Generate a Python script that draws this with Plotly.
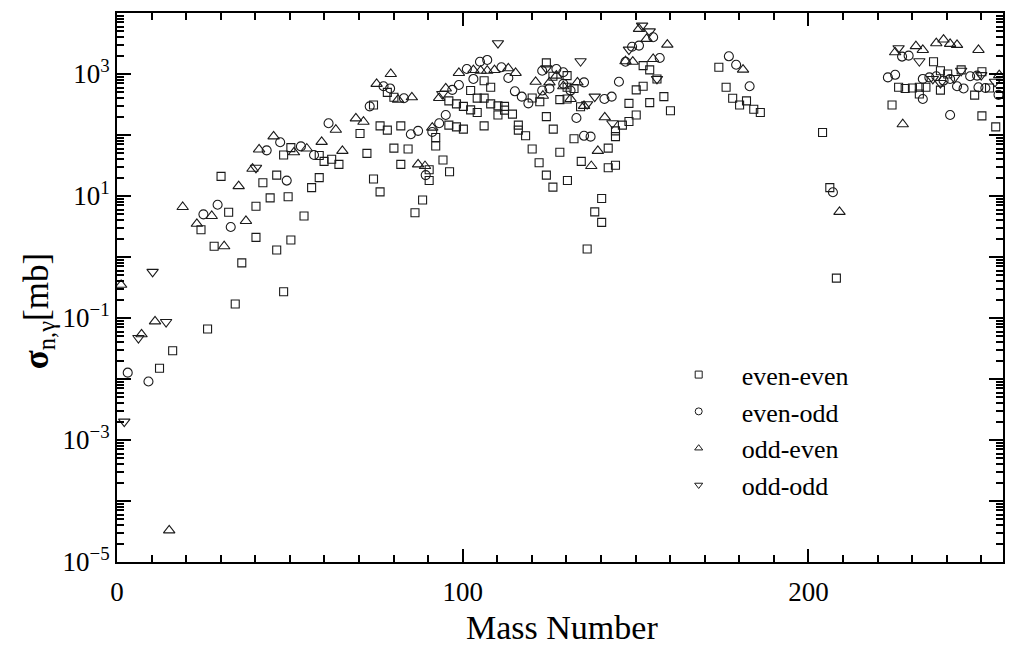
import plotly.graph_objects as go

# ---- data (mass number, cross section in mb) ----
ee_A = [12.3, 16.1, 26.2, 34.2, 48.2, 24.3, 32.3, 28.1, 36.1, 40.2, 40.2, 46.2, 50.3, 54.1, 49.5, 44.3,
        42.2, 46.2, 56.3, 58.5, 30.1, 48.2, 50.3, 58.5, 59.9, 62.1, 64.2, 70.3, 72.3, 74.2, 76.1, 74.2,
        78.2, 80.1, 76.1, 78.2, 82.1, 80.1, 84.2, 82.1, 90.3, 90.3, 88.4, 86.2, 94.3, 96.2, 92.2, 92.2,
        96.0, 98.2, 100.2, 106.2, 96.0, 98.2, 100.2, 102.3, 104.2, 102.3, 104.2, 106.2, 106.2, 108.1,
        108.1, 110.2, 112.1, 110.2, 112.1, 114.4, 116.1, 116.1, 118.2, 120.1, 122.1, 124.2, 126.1, 130.3,
        128.1, 124.2, 126.2, 120.1, 122.3, 124.2, 126.1, 130.2, 130.2, 128.1, 130.2, 132.2, 134.1, 132.2,
        134.3, 140.2, 138.2, 140.2, 136.0, 142.1, 144.2, 142.1, 144.2, 144.2, 146.2, 148.1, 150.2, 148.1,
        150.2, 152.2, 154.1, 158.2, 160.1, 156.2, 152.2, 154.1, 174.1, 176.2, 178.1, 180.1, 182.1, 184.2,
        186.1, 204.1, 206.2, 208.1, 224.2, 226.1, 228.0, 230.1, 232.1, 232.1, 234.0, 236.2, 238.2, 240.3,
        238.2, 244.2, 248.1, 250.2, 252.4, 250.2, 254.2]
ee_S = [0.015, 0.029, 0.066, 0.17, 0.27, 2.8, 5.4, 1.5, 0.80, 2.1, 6.8, 1.3, 1.9, 4.7, 9.7, 9.3,
        16.5, 22, 13.7, 20, 21, 47, 62, 46, 37, 40, 33, 106, 50, 19, 11.7, 310,
        500, 415, 141, 120, 141, 61, 59, 33, 27, 18, 8.6, 5.3, 39, 25, 91, 66,
        145, 136, 125, 141, 363, 324, 295, 258, 234, 537, 403, 403, 776, 605,
        324, 300, 295, 213, 256, 220, 145, 120, 97, 59, 35, 22, 14, 18,
        52, 200, 125, 405, 350, 1520, 920, 940, 605, 380, 390, 580, 290, 87,
        37, 9.1, 5.5, 3.7, 1.35, 29, 32, 61, 117, 94, 145, 166, 213, 330,
        550, 630, 340, 425, 250, 830, 1370, 1170, 1290, 605, 400, 310, 363, 265,
        234, 110, 13.7, 0.45, 310, 605, 580, 590, 605, 470, 605, 1590, 1130, 1000,
        545, 1170, 450, 1090, 590, 206, 136]

eo_A = [3.1, 9.1, 25.0, 29.1, 32.9, 49.1, 43.3, 47.2, 53.2, 57.0, 61.2, 73.1, 77.1, 79.0, 83.0, 85.0,
        87.1, 89.3, 91.2, 93.2, 95.1, 97.0, 98.9, 101.2, 103.1, 105.0, 107.1, 111.2, 113.2, 115.1, 117.1,
        119.0, 123.0, 123.0, 125.1, 127.1, 129.1, 129.1, 131.2, 135.1, 132.9, 135.1, 137.0, 141.0, 143.1,
        145.2, 147.1, 149.0, 151.0, 155.1, 157.0, 177.0, 179.1, 183.0, 207.1, 223.0, 225.1, 227.1, 229.0,
        233.1, 233.1, 235.0, 237.0, 239.1, 241.0, 243.0, 244.9, 246.8, 248.8, 249.2, 251.2, 255.0, 241.0]
eo_S = [0.0127, 0.0091, 5.0, 7.2, 3.1, 17.9, 56, 76, 65, 47, 156, 295, 630, 580, 400, 103,
        117, 22, 112, 156, 213, 550, 660, 1210, 830, 1590, 1700, 1290, 860, 520, 425,
        330, 1130, 535, 580, 1210, 1070, 690, 535, 730, 190, 97, 94, 390, 425,
        745, 1590, 2800, 2920, 4000, 1830, 1950, 1420, 630, 11.5, 880, 970, 1930, 2000,
        830, 390, 880, 920, 780, 830, 630, 580, 920, 940, 605, 590, 455, 213]

oe_A = [1.2, 7.1, 11.0, 15.1, 19.0, 23.1, 27.4, 31.0, 35.2, 37.3, 39.2, 41.1, 45.3, 51.2, 54.9, 59.2,
        63.3, 65.2, 69.1, 71.3, 75.1, 79.2, 81.3, 85.3, 87.1, 89.1, 91.2, 93.2, 95.1, 98.9, 103.1, 105.2,
        107.1, 109.2, 113.2, 115.3, 121.1, 123.2, 125.1, 127.1, 129.1, 131.2, 133.2, 135.1, 139.1, 137.2,
        141.1, 147.1, 149.2, 155.1, 159.2, 151.0, 153.2, 181.1, 209.0, 227.3, 225.1, 231.1, 233.1, 237.0,
        239.1, 241.0, 243.0, 249.2, 255.2]
oe_S = [0.35, 0.054, 0.088, 3.3e-5, 6.6, 3.5, 4.7, 1.5, 14.5, 3.9, 28, 58, 95, 52, 60, 77,
        122, 55, 187, 165, 690, 1000, 380, 415, 33, 31, 132, 405, 580, 1040, 1160, 1130,
        1130, 1160, 1240, 1040, 745, 440, 730, 940, 630, 390, 730, 300, 55, 31,
        195, 1620, 1590, 1760, 3030, 5500, 3760, 1180, 5.5, 150, 2270, 2860, 2480, 3200,
        3670, 3120, 3000, 2480, 960]

oo_A = [2.1, 6.2, 10.3, 14.2, 40.2, 94.1, 110.2, 124.2, 136.0, 138.2, 134.1, 143.3, 148.1, 151.9,
        154.1, 156.2, 226.1, 232.1, 236.0, 238.2, 242.2, 244.2, 250.0, 254.0]
oo_S = [0.002, 0.047, 0.57, 0.086, 29, 470, 3200, 1240, 320, 425, 1620, 156, 2510, 6200,
        5000, 830, 2650, 1620, 830, 710, 860, 1130, 960, 745]

series_names = ["even-even", "even-odd", "odd-even", "odd-odd"]
y_label_exps = [-5, -3, -1, 1, 3]
y_title = "<b>\u03c3</b><sub>n,\u03b3</sub>[mb]"
x_title = "Mass Number"

FONT = "Liberation Serif"
INK = "#1a1a1a"

fig = go.Figure()
symbols = ["square-open", "circle-open", "triangle-up-open", "triangle-down-open"]
sizes = [8, 9, 10, 10]
for (xs, ys), sym, sz in zip([(ee_A, ee_S), (eo_A, eo_S), (oe_A, oe_S), (oo_A, oo_S)], symbols, sizes):
    fig.add_trace(go.Scatter(x=xs, y=ys, mode="markers", showlegend=False,
                             marker=dict(symbol=sym, size=sz, color=INK,
                                         line=dict(color=INK, width=1.1))))
# legend entries (smaller symbols, as in the reference)
for name, sym in zip(series_names, symbols):
    fig.add_trace(go.Scatter(x=[None], y=[None], mode="markers", name=name,
                             marker=dict(symbol=sym, size=7, color=INK,
                                         line=dict(color=INK, width=1))))

tickvals = [10.0 ** e for e in range(-5, 5)]
ticktext = [("10<sup>\u2212%d</sup>" % -e if e < 0 else "10<sup>%d</sup>" % e) if e in y_label_exps else ""
            for e in range(-5, 5)]
minor_vals = [m * 10.0 ** e for e in range(-5, 4) for m in range(2, 10)]

fig.update_layout(
    width=1010, height=645,
    margin=dict(l=117, r=7, t=13, b=83),
    paper_bgcolor="white", plot_bgcolor="white",
    font=dict(family=FONT, size=27, color="black"),
    showlegend=True,
    legend=dict(x=0.608, y=0.384, xanchor="left", yanchor="top", itemwidth=76,
                bgcolor="rgba(0,0,0,0)", borderwidth=0,
                font=dict(family=FONT, size=26, color="black")),
    xaxis=dict(range=[0, 256.3], showgrid=False, zeroline=False, automargin=False,
               showline=True, linecolor="black", linewidth=2, mirror="ticks",
               ticks="inside", ticklen=13, tickwidth=2, tickcolor="black",
               tickmode="array", tickvals=[0, 100, 200], ticktext=["0", "100", "200"],
               tickfont=dict(family=FONT, size=27), ticklabelstandoff=5,
               minor=dict(ticks="inside", ticklen=7, tickwidth=1.5, tickcolor="black",
                          dtick=10, tick0=0, showgrid=False)),
    yaxis=dict(type="log", range=[-5, 4], showgrid=False, zeroline=False, automargin=False,
               showline=True, linecolor="black", linewidth=2, mirror="ticks",
               ticks="inside", ticklen=14, tickwidth=2, tickcolor="black",
               tickmode="array", tickvals=tickvals, ticktext=ticktext,
               tickfont=dict(family=FONT, size=27),
               minor=dict(ticks="inside", ticklen=7, tickwidth=1.5, tickcolor="black",
                          tickmode="array", tickvals=minor_vals, showgrid=False)),
    annotations=[
        dict(text=y_title, xref="paper", yref="paper", x=-0.089, y=0.457,
             xanchor="center", yanchor="middle", textangle=-90, showarrow=False,
             font=dict(family=FONT, size=35, color="black")),
        dict(text=x_title, xref="paper", yref="paper", x=0.502, y=-0.12,
             xanchor="center", yanchor="middle", showarrow=False,
             font=dict(family=FONT, size=34, color="black")),
    ],
)

fig.write_html("out.html")
